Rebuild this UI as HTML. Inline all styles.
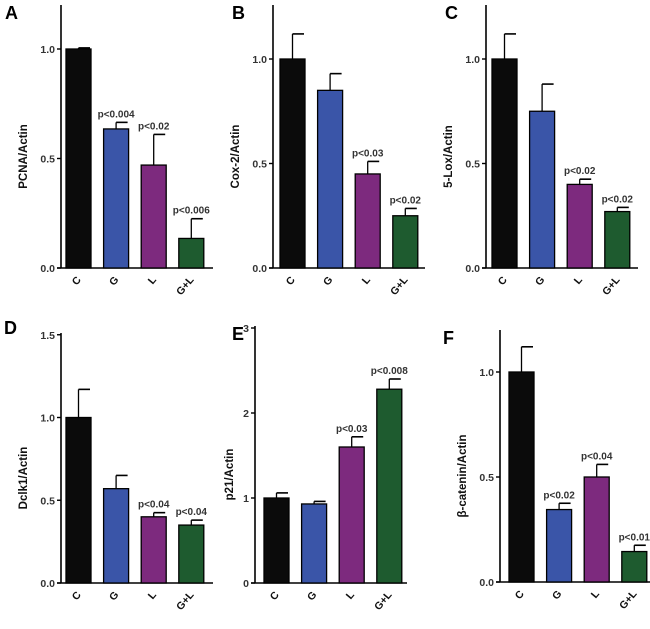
<!DOCTYPE html>
<html><head><meta charset="utf-8"><style>
body{margin:0;background:#fff;width:650px;height:624px;overflow:hidden}
svg{font-family:"Liberation Sans",Arial,sans-serif}
</style></head><body>
<svg id="c" width="650" height="624" xmlns="http://www.w3.org/2000/svg"></svg>
<script>
const categories=["C","G","L","G+L"];
const colors=["#0b0b0b","#3a55a8","#7d2a7e","#1e5b2f"];
const panelLetters=["A","B","C","D","E","F"];
const yTitles=["PCNA/Actin","Cox-2/Actin","5-Lox/Actin","Dclk1/Actin","p21/Actin","β-catenin/Actin"];
const valuesA=[1.0,0.635,0.47,0.135], errA=[0.005,0.03,0.14,0.09], pA=["","p<0.004","p<0.02","p<0.006"];
const valuesB=[1.0,0.85,0.45,0.25], errB=[0.12,0.08,0.06,0.035], pB=["","","p<0.03","p<0.02"];
const valuesC=[1.0,0.75,0.40,0.27], errC=[0.12,0.13,0.025,0.02], pC=["","","p<0.02","p<0.02"];
const valuesD=[1.0,0.57,0.40,0.35], errD=[0.17,0.08,0.025,0.03], pD=["","","p<0.04","p<0.04"];
const valuesE=[1.0,0.93,1.6,2.28], errE=[0.06,0.03,0.12,0.12], pE=["","","p<0.03","p<0.008"];
const valuesF=[1.0,0.345,0.50,0.145], errF=[0.12,0.03,0.06,0.03], pF=["","p<0.02","p<0.04","p<0.01"];
const ticksStd=[0,0.5,1.0], ticksStdLabels=["0.0","0.5","1.0"];
const ticksD=[0,0.5,1.0,1.5], ticksDLabels=["0.0","0.5","1.0","1.5"];
const ticksE=[0,1,2,3], ticksELabels=["0","1","2","3"];

const panels=[
 {v:valuesA,e:errA,p:pA,t:ticksStd,tl:ticksStdLabels,ax:61,base:268,top:5,unit:219,bx0:66,right:213,lx:5,ly:19},
 {v:valuesB,e:errB,p:pB,t:ticksStd,tl:ticksStdLabels,ax:273,base:268,top:5,unit:209,bx0:280,right:425,lx:232,ly:19},
 {v:valuesC,e:errC,p:pC,t:ticksStd,tl:ticksStdLabels,ax:486,base:268,top:5,unit:209,bx0:492,right:638,lx:445,ly:19},
 {v:valuesD,e:errD,p:pD,t:ticksD,tl:ticksDLabels,ax:61,base:583,top:333,unit:165.5,bx0:66,right:213,lx:4,ly:334},
 {v:valuesE,e:errE,p:pE,t:ticksE,tl:ticksELabels,ax:255,base:583,top:326,unit:85,bx0:264,right:407,lx:232,ly:340},
 {v:valuesF,e:errF,p:pF,t:ticksStd,tl:ticksStdLabels,ax:500,base:582,top:330,unit:210,bx0:509,right:650,lx:443,ly:344}
];
const svg=document.getElementById('c');
const NS="http://www.w3.org/2000/svg";
function mk(tag,at,parent){const el=document.createElementNS(NS,tag);for(const k in at)el.setAttribute(k,at[k]);(parent||svg).appendChild(el);return el;}
panels.forEach((P,i)=>{
 const g=mk('g',{});
 
 
 const y=v=>P.base-v*P.unit;
 const bx=j=>P.bx0+j*37.6;
 const bw=25;
 const L=mk('text',{x:P.lx,y:P.ly,'font-size':18,'font-weight':'bold',fill:'#000'},g);
 L.textContent=panelLetters[i];
 
 
 const ya=mk('line',{x1:P.ax,y1:P.top,x2:P.ax,y2:P.base,stroke:'#000','stroke-width':1.6},g);
 
 
 const xa=mk('line',{x1:P.ax-4,y1:P.base,x2:P.right,y2:P.base,stroke:'#000','stroke-width':1.6},g);
 
 
 P.t.forEach((t,k)=>{
  mk('line',{x1:P.ax-4,y1:y(t),x2:P.ax,y2:y(t),stroke:'#000','stroke-width':1.4},g);
  const tt=mk('text',{x:P.ax-6,y:y(t)+4,'font-size':10.5,'font-weight':'bold','text-anchor':'end',fill:'#333'},g);
  tt.textContent=P.tl[k];
  
  
 });
 const ymid=(P.top+P.base)/2+20;
 const tx=P.ax-(i===4?22:34);
 const yt=mk('text',{x:tx,y:ymid,'font-size':11.5,'font-weight':'bold','text-anchor':'middle',fill:'#111',transform:`rotate(-90 ${tx} ${ymid})`},g);
 yt.textContent=yTitles[i];
 
 
 P.v.forEach((v,j)=>{
  const x=bx(j);
  const top=y(v+P.e[j]);
  mk('line',{x1:x+bw/2,y1:y(v),x2:x+bw/2,y2:top,stroke:'#000','stroke-width':1.3},g);
  mk('line',{x1:x+bw/2,y1:top,x2:x+bw-1,y2:top,stroke:'#000','stroke-width':1.6},g);
  const r=mk('rect',{x:x,y:y(v),width:bw,height:v*P.unit,fill:colors[j],stroke:'#000','stroke-width':1.3},g);
  
  
  if(P.p[j]){
   const pt=mk('text',{x:x+bw/2,y:top-5,'font-size':10,'font-weight':'bold','text-anchor':'middle',fill:'#333'},g);
   pt.textContent=P.p[j];
   
   
  }
  const lx=x+bw/2+3, ly=P.base+12;
  const xl=mk('text',{x:lx,y:ly,'font-size':10.5,'font-weight':'bold','text-anchor':'end',fill:'#111',transform:`rotate(-50 ${lx} ${ly})`},g);
  xl.textContent=categories[j];
  
  
 });
});
</script>
</body></html>
